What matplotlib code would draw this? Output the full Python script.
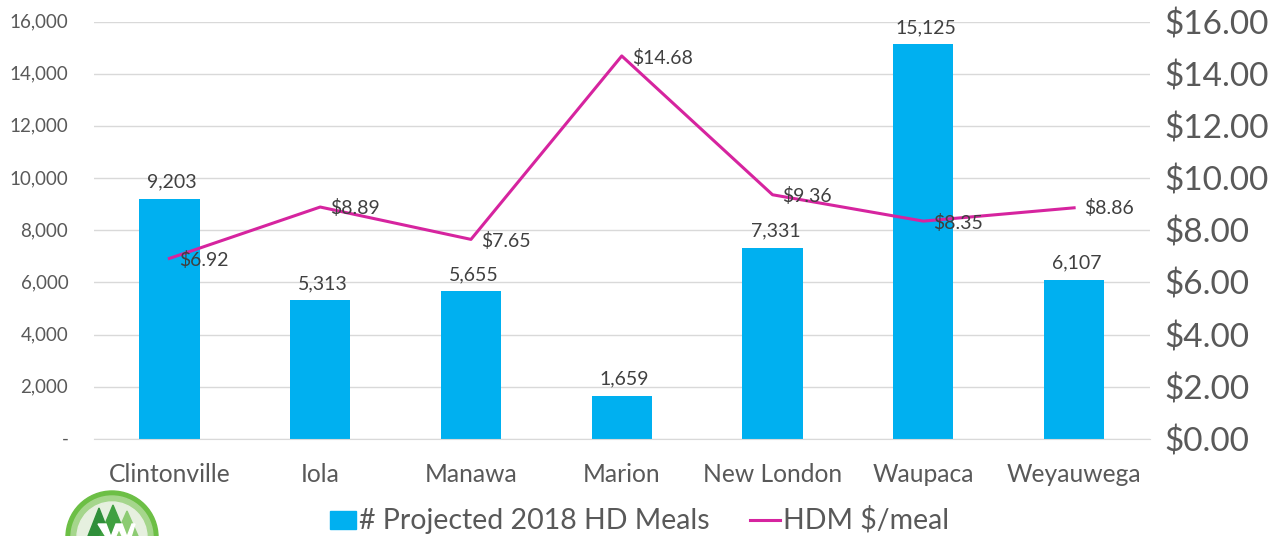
import matplotlib
matplotlib.use("Agg")
import matplotlib.pyplot as plt
from matplotlib.patches import Circle, Polygon, Rectangle
from matplotlib.lines import Line2D
from matplotlib.transforms import ScaledTranslation

plt.rcParams['font.family'] = ['Lato', 'DejaVu Sans']

categories = ["Clintonville", "Iola", "Manawa", "Marion", "New London", "Waupaca", "Weyauwega"]
meals = [9203, 5313, 5655, 1659, 7331, 15125, 6107]
cost = [6.92, 8.89, 7.65, 14.68, 9.36, 8.35, 8.86]
left_ticks = [0, 2000, 4000, 6000, 8000, 10000, 12000, 14000, 16000]
right_ticks = [0, 2, 4, 6, 8, 10, 12, 14, 16]
meal_label = "# Projected 2018 HD Meals"
cost_label = "HDM $/meal"
cost_offsets = [(10, -2), (10, -1), (10, -2), (10, -2), (10, -1), (10, -2), (10, 0)]

W, H = 1283, 536
GREY = "#595959"
BLUE = "#00B0F0"
PINK = "#D6249F"

fig = plt.figure(figsize=(W / 100, H / 100), dpi=100, facecolor="white")
ax = fig.add_axes([94 / W, 1 - 439 / H, (1149.5 - 94) / W, (439 - 21.5) / H])
x = list(range(len(categories)))
ax.bar(x, meals, width=0.4, color=BLUE, zorder=2)
ax.set_xlim(-0.5, len(categories) - 0.5)
ax.set_ylim(0, 16000)
ax.set_xticks(x)
ax.set_xticklabels(categories, fontsize=17.7, color=GREY)
ax.set_yticks(left_ticks)
ax.set_yticklabels(["-" if v == 0 else f"{v:,}" for v in left_ticks], fontsize=13.5, color=GREY)
ax.tick_params(axis="both", length=0)
ax.tick_params(axis="x", pad=17.5)
ax.tick_params(axis="y", pad=18.5)
for lab in ax.get_yticklabels():
    lab.set_transform(lab.get_transform() + ScaledTranslation(0, 1 / 100, fig.dpi_scale_trans))
ax.grid(axis="y", color="#D9D9D9", linewidth=1, zorder=0)
ax.set_axisbelow(True)
for s in ["top", "left", "right"]:
    ax.spines[s].set_visible(False)
ax.spines["bottom"].set_color("#D9D9D9")
for xi, v in zip(x, meals):
    ax.annotate(f"{v:,}", (xi, v), xytext=(2, 6), textcoords="offset points",
                ha="center", va="bottom", fontsize=14, color="#404040", zorder=5)

ax2 = ax.twinx()
ax2.set_ylim(0, 16)
ax2.plot(x, cost, color=PINK, linewidth=2.2, zorder=4)
ax2.set_yticks(right_ticks)
ax2.set_yticklabels([f"${v:.2f}" for v in right_ticks], fontsize=24, color=GREY)
ax2.tick_params(axis="y", length=0, pad=11)
for s in ax2.spines.values():
    s.set_visible(False)
for xi, v, off in zip(x, cost, cost_offsets):
    ax2.annotate(f"${v:.2f}", (xi, v), xytext=(off[0] * 0.72, off[1] * 0.72), textcoords="offset points",
                 ha="left", va="center", fontsize=14, color="#404040", zorder=6)

# Legend keys and labels, placed by hand to sit where the reference has them
overlay = fig.add_axes([0, 0, 1, 1], facecolor="none")
overlay.set_xlim(0, W)
overlay.set_ylim(H, 0)
overlay.axis("off")
overlay.add_patch(Rectangle((330, 511), 26, 18, color=BLUE))
overlay.text(359, 529, meal_label, fontsize=20.5, color=GREY, ha="left", va="baseline")
overlay.add_line(Line2D([750, 780], [520, 520], color=PINK, linewidth=2.2))
overlay.text(783, 529, cost_label, fontsize=20.5, color=GREY, ha="left", va="baseline")

# Partly visible round logo at the lower left, cut off by the bottom edge
overlay.add_patch(Circle((112, 537), 46, color="#6CBF45"))
overlay.add_patch(Circle((112, 537), 41, color="#A5D68C"))
overlay.add_patch(Circle((112, 537), 35, color="#E6F0DF"))
for cx, top, base, hw, col in [(99, 508, 536, 11, "#2F8F3A"), (113, 505, 536, 13, "#3FA040"),
                               (127, 511, 536, 11, "#8CCB72")]:
    overlay.add_patch(Polygon([(cx, top), (cx - hw, base), (cx + hw, base)], color=col))
# White letterform of the logo, as artwork because the image edge crops it
overlay.add_patch(Polygon([(98, 524), (106, 524), (111, 537), (116, 524), (122, 524),
                           (127, 537), (132, 524), (135, 524), (130, 540), (124, 540),
                           (119, 529), (114, 540), (108, 540)], color="white"))

fig.savefig("out.png", dpi=100)
